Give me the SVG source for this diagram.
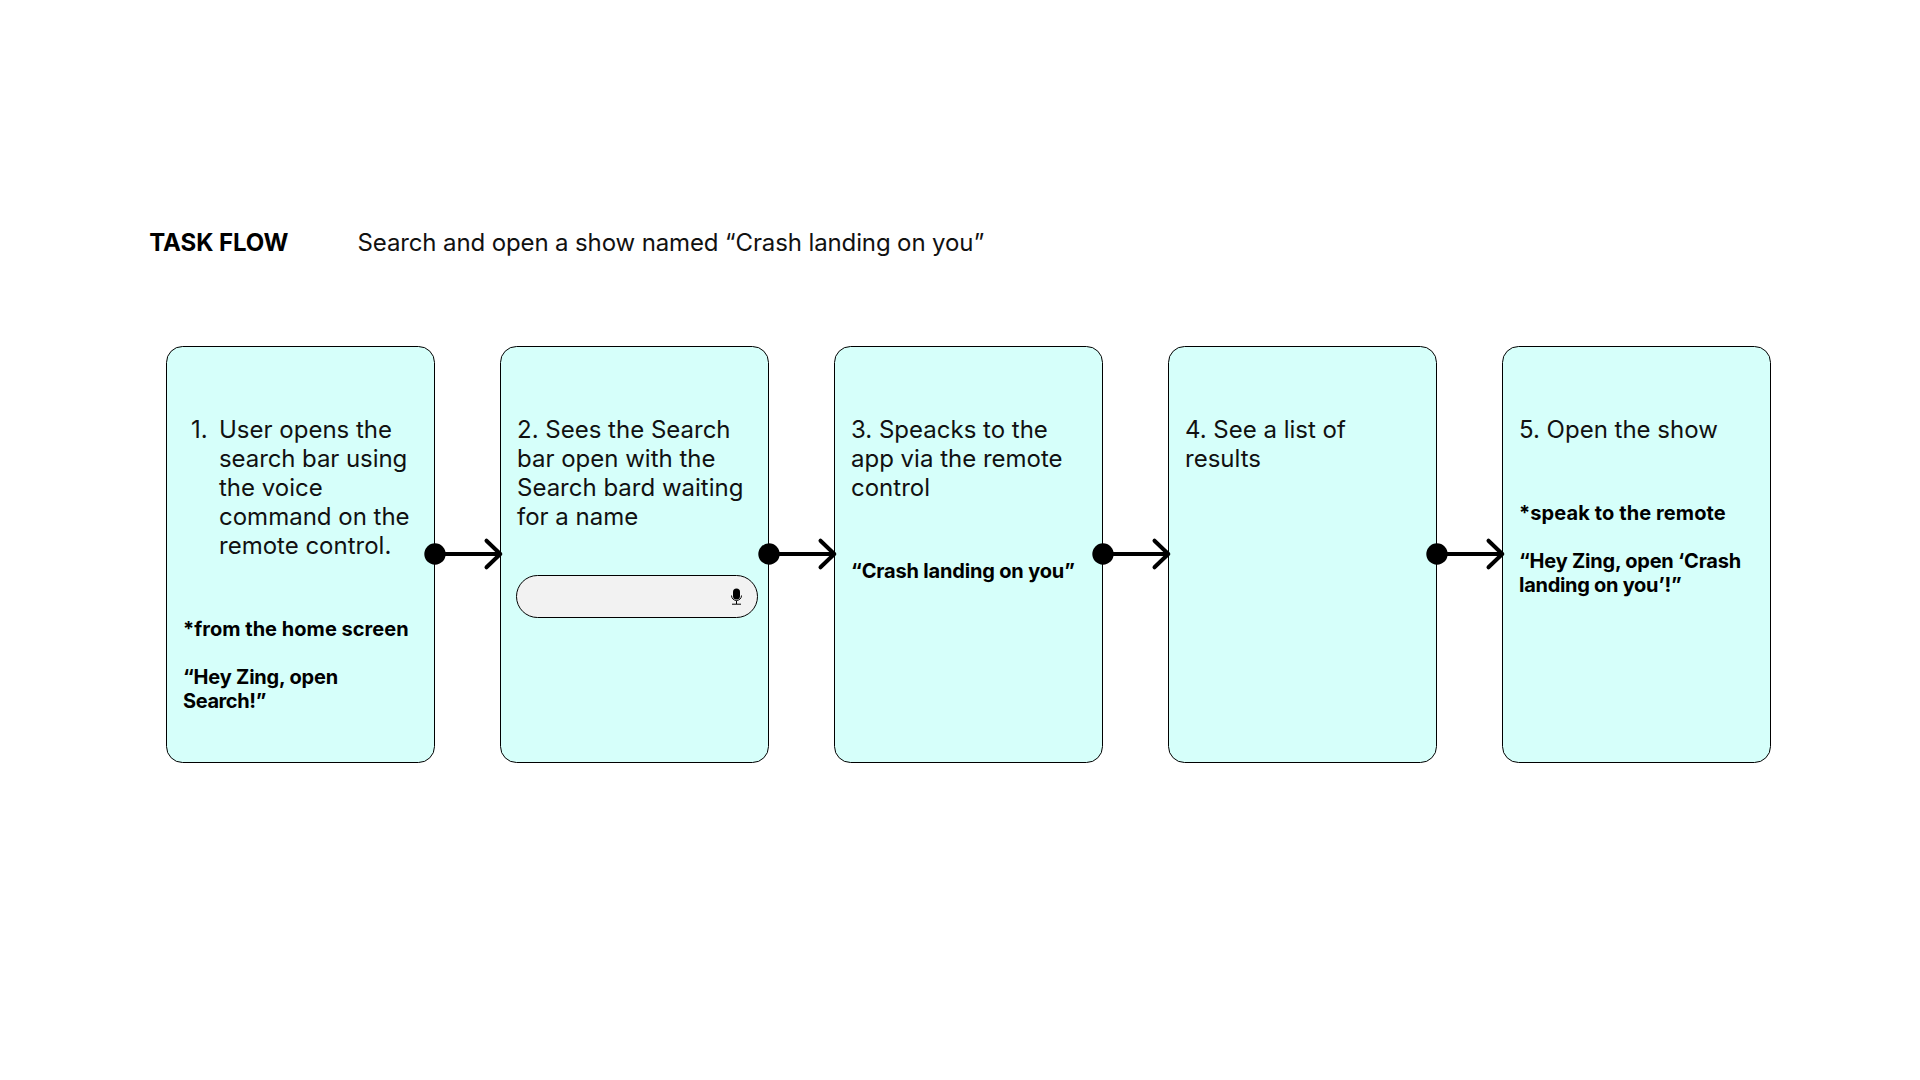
<svg xmlns="http://www.w3.org/2000/svg" width="1920" height="1080" viewBox="0 0 1920 1080">
<style>
text{font-family:Inter,"Liberation Sans",sans-serif;fill:#000}
.b{font-size:24px;fill:#111}
.n{font-size:20px;font-weight:700}
.card{fill:#d6fffa;stroke:#000;stroke-width:1}
.arrow{fill:none;stroke:#000;stroke-width:4;stroke-linecap:round;stroke-linejoin:round}
</style>
<rect width="1920" height="1080" fill="#fff"/>
<g id="header">
<text x="149.300" y="251" style="font-size:24px;font-weight:700" letter-spacing="-0.1">TASK FLOW</text>
<text x="357.500" y="251" class="b" letter-spacing="-0.12">Search and open a show named “Crash landing on you”</text>
</g>
<g id="node1"><rect class="card" x="166.5" y="346.5" width="268" height="416" rx="16"/>
<text class="b"><tspan x="191" y="438">1.</tspan><tspan x="219" y="438">User opens the</tspan><tspan x="219" y="467" letter-spacing="-0.08">search bar using</tspan><tspan x="219" y="496">the voice</tspan><tspan x="219" y="525">command on the</tspan><tspan x="219" y="554">remote control.</tspan></text>
<text class="n"><tspan x="183" y="636" letter-spacing="0.03">*from the home screen</tspan><tspan x="183" y="684" letter-spacing="-0.2">“Hey Zing, open</tspan><tspan x="183" y="708" letter-spacing="-0.4">Search!”</tspan></text></g>
<g id="node2"><rect class="card" x="500.5" y="346.5" width="268" height="416" rx="16"/>
<text class="b"><tspan x="517" y="438">2. Sees the Search</tspan><tspan x="517" y="467">bar open with the</tspan><tspan x="517" y="496">Search bard waiting</tspan><tspan x="517" y="525">for a name</tspan></text>
<rect x="516.500" y="575.500" width="241" height="42" rx="21" fill="#f2f2f2" stroke="#000" stroke-width="1"/>
<rect x="733" y="588.500" width="7" height="11" rx="3.500" fill="#000"/>
<path d="M731.500 595.500a5 5 0 0 0 10 0M736.500 601v3M732 604.200h9" fill="none" stroke="#000" stroke-width="1"/></g>
<g id="node3"><rect class="card" x="834.5" y="346.5" width="268" height="416" rx="16"/>
<text class="b"><tspan x="851" y="438">3. Speacks to the</tspan><tspan x="851" y="467">app via the remote</tspan><tspan x="851" y="496">control</tspan></text>
<text class="n" x="851" y="578" letter-spacing="-0.17">“Crash landing on you”</text></g>
<g id="node4"><rect class="card" x="1168.5" y="346.5" width="268" height="416" rx="16"/>
<text class="b"><tspan x="1185" y="438">4. See a list of</tspan><tspan x="1185" y="467">results</tspan></text></g>
<g id="node5"><rect class="card" x="1502.5" y="346.5" width="268" height="416" rx="16"/>
<text class="b" x="1519" y="438">5. Open the show</text>
<text class="n"><tspan x="1519" y="520" letter-spacing="0.1">*speak to the remote</tspan><tspan x="1519" y="568" letter-spacing="-0.22">“Hey Zing, open ‘Crash</tspan><tspan x="1519" y="592" letter-spacing="-0.28">landing on you’!”</tspan></text></g>
<g id="connectors">
<g id="c1"><circle cx="435" cy="554" r="10.700"/><path class="arrow" d="M435 554H500.300M486.500 540.700L500.300 554L486.500 567.300"/></g>
<g id="c2"><circle cx="769" cy="554" r="10.700"/><path class="arrow" d="M769 554H834.300M820.500 540.700L834.300 554L820.500 567.300"/></g>
<g id="c3"><circle cx="1103" cy="554" r="10.700"/><path class="arrow" d="M1103 554H1168.300M1154.500 540.700L1168.300 554L1154.500 567.300"/></g>
<g id="c4"><circle cx="1437" cy="554" r="10.700"/><path class="arrow" d="M1437 554H1502.300M1488.500 540.700L1502.300 554L1488.500 567.300"/></g>
</g>
</svg>
